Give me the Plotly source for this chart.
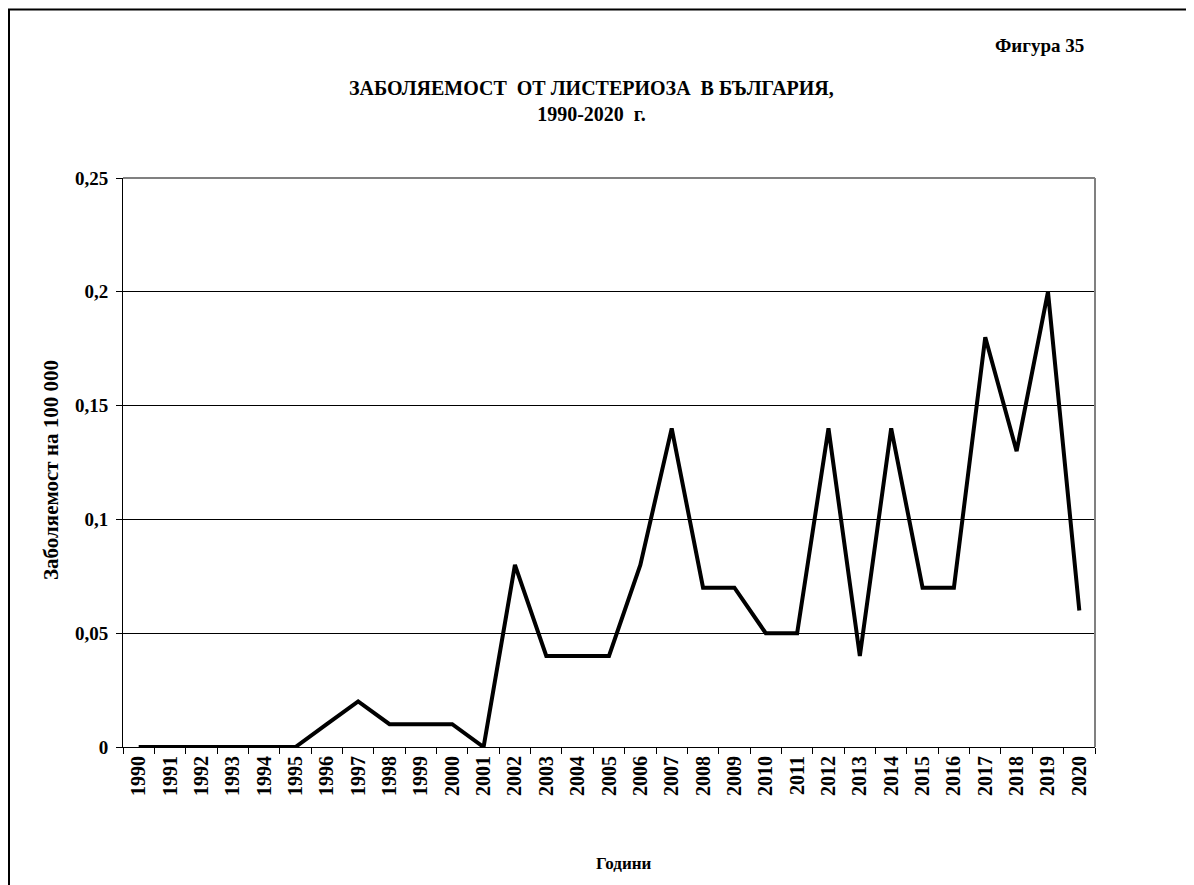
import plotly.graph_objects as go

years = [str(y) for y in range(1990, 2021)]
rates = [0, 0, 0, 0, 0, 0, 0.01, 0.02, 0.01, 0.01, 0.01, 0,
         0.08, 0.04, 0.04, 0.04, 0.08, 0.14, 0.07, 0.07, 0.05, 0.05,
         0.14, 0.04, 0.14, 0.07, 0.07, 0.18, 0.13, 0.2, 0.06]
y_ticks = [0, 0.05, 0.1, 0.15, 0.2, 0.25]

FONT = "Liberation Serif"
OFF = 8  # page body margin
W, H = 1194, 885
PW, PH = 972, 569
L, T = 123 - OFF, 178 - OFF
R, B = W - L - PW, H - T - PH


def px_x(p):
    # page pixel -> paper x
    return (p - OFF - L) / PW


def px_y(p):
    return (T + PH - (p - OFF)) / PH


fig = go.Figure()
fig.add_trace(go.Scatter(x=years, y=rates, mode="lines",
                         line=dict(color="black", width=4),
                         showlegend=False))

fig.update_layout(
    width=W, height=H,
    margin=dict(l=L, r=R, t=T, b=B),
    paper_bgcolor="white", plot_bgcolor="white",
    separators=", ",
    font=dict(family=FONT, color="black"),
    xaxis=dict(
        type="category", tickangle=-90, ticks="outside", ticklen=6,
        tickson="boundaries", tickcolor="black",
        showline=True, linecolor="black", linewidth=1,
        showgrid=False, tickfont=dict(size=20, family=FONT, weight="bold"),
        range=[-0.5, 30.5],
    ),
    yaxis=dict(
        range=[0, 0.25], tickvals=y_ticks, ticks="outside", ticklen=6,
        tickcolor="black", showline=True, linecolor="black", linewidth=1,
        showgrid=True, gridcolor="black", gridwidth=1, zeroline=False,
        tickfont=dict(size=19, family=FONT, weight="bold"),
        ticklabelstandoff=4,
    ),
    annotations=[
        dict(text="<b>ЗАБОЛЯЕМОСТ  ОТ ЛИСТЕРИОЗА  В БЪЛГАРИЯ,<br>1990-2020  г.</b>",
             xref="paper", yref="paper", x=px_x(591), y=px_y(101),
             xanchor="center", yanchor="middle", showarrow=False,
             font=dict(size=20, family=FONT)),
        dict(text="<b>Фигура 35</b>", xref="paper", yref="paper",
             x=px_x(1039), y=px_y(45), xanchor="center", yanchor="middle",
             showarrow=False, font=dict(size=19, family=FONT)),
        dict(text="<b>Години</b>", xref="paper", yref="paper",
             x=px_x(624), y=px_y(863), xanchor="center", yanchor="middle",
             showarrow=False, font=dict(size=17, family=FONT)),
        dict(text="<b>Заболяемост на 100 000</b>", xref="paper", yref="paper",
             x=px_x(51), y=px_y(470), xanchor="center", yanchor="middle",
             showarrow=False, textangle=-90, font=dict(size=21, family=FONT)),
    ],
    shapes=[
        dict(type="line", xref="paper", yref="paper",
             x0=1, x1=1, y0=0, y1=1, line=dict(color="gray", width=2)),
        dict(type="line", xref="paper", yref="paper",
             x0=0, x1=1, y0=1, y1=1, line=dict(color="gray", width=2)),
        dict(type="rect", xref="paper", yref="paper",
             x0=px_x(OFF + 1), x1=px_x(1230), y0=px_y(930), y1=px_y(9.5),
             line=dict(color="black", width=2), layer="below"),
    ],
)

fig.write_html("out.html")
